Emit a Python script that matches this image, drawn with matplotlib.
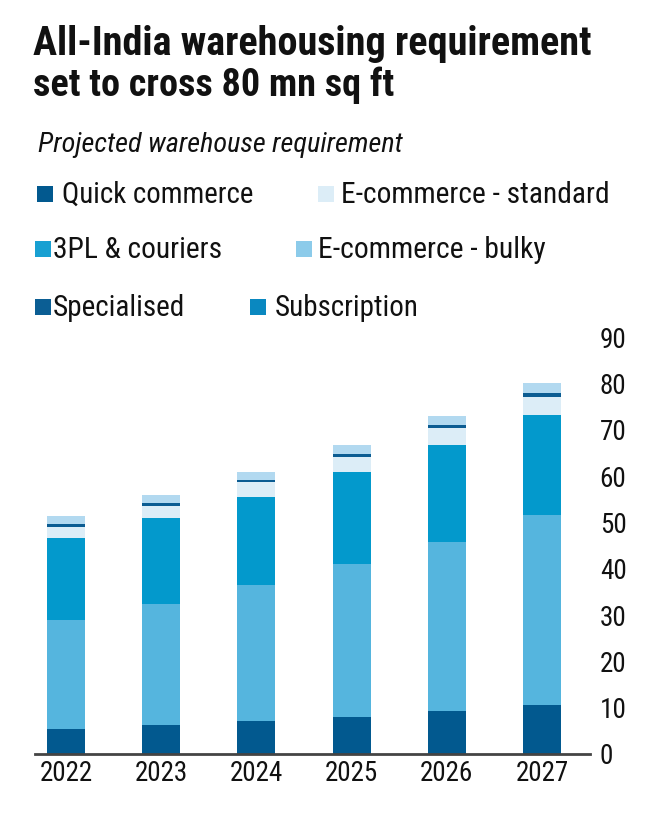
import matplotlib
matplotlib.use("Agg")
import matplotlib.pyplot as plt
from matplotlib.patches import Rectangle
from matplotlib import font_manager as fm
import numpy as np

years = ["2022", "2023", "2024", "2025", "2026", "2027"]
quick_commerce = [5.5, 6.2, 7.1, 8.0, 9.3, 10.6]
ecom_bulky = [23.4, 26.2, 29.3, 32.9, 36.5, 41.0]
tpl_couriers = [17.8, 18.5, 19.1, 20.0, 20.8, 21.6]
ecom_standard = [2.4, 2.7, 3.1, 3.2, 3.7, 3.9]
specialised = [0.5, 0.5, 0.5, 0.6, 0.7, 0.8]
subscription = [1.8, 1.9, 1.8, 2.0, 2.0, 2.1]
yticks = [0, 10, 20, 30, 40, 50, 60, 70, 80, 90]

# stacking order bottom -> top
series = [
    ("Quick commerce", quick_commerce, "#02598f"),
    ("E-commerce - bulky", ecom_bulky, "#55b5de"),
    ("3PL & couriers", tpl_couriers, "#0399cc"),
    ("E-commerce - standard", ecom_standard, "#dcedf7"),
    ("Specialised", specialised, "#0b5c92"),
    ("Subscription", subscription, "#b2d9f0"),
]
legend_colors = {
    "Quick commerce": "#02598f",
    "E-commerce - standard": "#dcedf7",
    "3PL & couriers": "#18a0d2",
    "E-commerce - bulky": "#8ccbea",
    "Specialised": "#0b5e94",
    "Subscription": "#0a88c0",
}

avail = {f.name for f in fm.fontManager.ttflist}
FAM = "Roboto" if "Roboto" in avail else "DejaVu Sans"
for cand in ["Roboto Condensed", "Liberation Sans Narrow", "Open Sans Condensed"]:
    if cand in avail:
        FAM = cand
        break

W, H = 660, 816
fig = plt.figure(figsize=(W / 100, H / 100), dpi=100)
fig.patch.set_facecolor("white")
renderer = fig.canvas.get_renderer()

def fx(px):
    return px / W

def fy(py):
    return 1 - py / H

def fit_text(x, y, s, target_w, weight="normal", style="normal", color="#111111", ha="left"):
    t = fig.text(fx(x), fy(y), s, fontsize=20, family=FAM, weight=weight,
                 style=style, color=color, ha=ha, va="baseline")
    w = t.get_window_extent(renderer).width
    t.set_fontsize(20 * target_w / w)
    return t

# Title and subtitle
fit_text(33, 55, "All-India warehousing requirement", 557, weight="bold")
fit_text(33, 96, "set to cross 80 mn sq ft", 360, weight="bold")
fit_text(38, 152, "Projected warehouse requirement", 364, style="italic")

# Legend (manual layout): name, patch x, text x, text end x, baseline y
legend_items = [
    ("Quick commerce", 37, 62, 254, 203),
    ("E-commerce - standard", 318, 341, 610, 203),
    ("3PL & couriers", 35, 53, 222, 258),
    ("E-commerce - bulky", 296, 318, 546, 258),
    ("Specialised", 35, 53, 185, 316),
    ("Subscription", 250, 275, 418, 316),
]
for name, px, tx, tend, base in legend_items:
    fig.patches.append(Rectangle((fx(px), fy(base - 1)), fx(16), 16 / H,
                                 transform=fig.transFigure, facecolor=legend_colors[name],
                                 edgecolor="none"))
    fit_text(tx, base, name, tend - tx)

# Axes
ax = fig.add_axes([fx(35), fy(754), fx(590 - 35), (754 - 337) / H])
x = np.arange(len(years))
bottom = np.zeros(len(years))
for name, vals, col in series:
    vals = np.array(vals)
    ax.bar(x, vals, bottom=bottom, width=0.40, color=col, edgecolor="none", label=name)
    bottom += vals

ax.set_xlim(-0.326, 5.504)
ax.set_ylim(0, 90)
ax.set_yticks(yticks)
ax.set_xticks(x)
ax.set_xticklabels(years)
ax.yaxis.tick_right()
for s in ["top", "left", "right"]:
    ax.spines[s].set_visible(False)
ax.spines["bottom"].set_color("#444444")
ax.spines["bottom"].set_linewidth(2)
ax.tick_params(axis="both", length=0, labelsize=19.5, labelcolor="#111111")
ax.tick_params(axis="y", pad=7)
ax.tick_params(axis="x", pad=4)
for lab in ax.get_xticklabels() + ax.get_yticklabels():
    lab.set_family(FAM)
ax.set_facecolor("white")

fig.savefig("out.png", dpi=100, facecolor="white")
